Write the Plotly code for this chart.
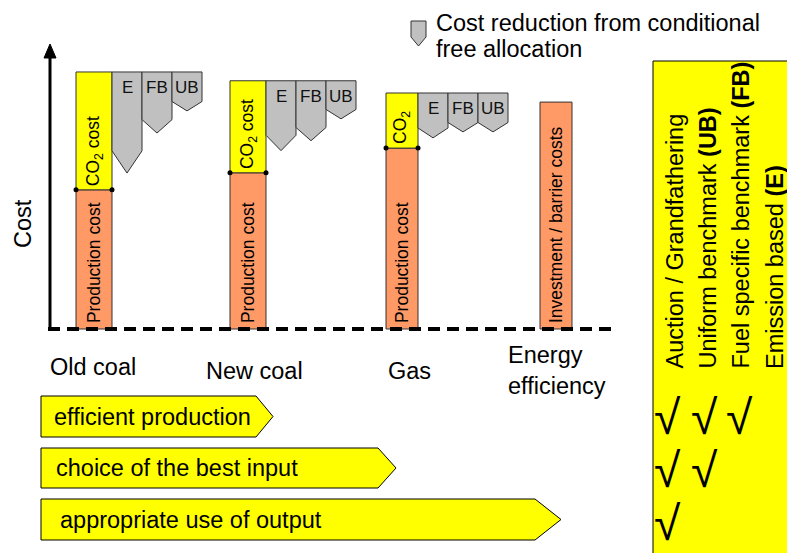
import plotly.graph_objects as go

# ---------------- data ----------------
categories = ["Old coal", "New coal", "Gas", "Energy<br>efficiency"]
production_cost = [49.0, 55.0, 63.7, None]
co2_cost = [41.5, 32.4, 19.4, None]
barrier_cost = [None, None, None, 79.9]
co2_labels = ["CO<sub>2</sub> cost", "CO<sub>2</sub> cost", "CO<sub>2</sub>", None]
bar_labels = ["Production cost", "Production cost", "Production cost", "Investment / barrier costs"]

reduction_names = ["E", "FB", "UB"]
reduction_E = [35.6, 24.6, 15.8, None]
reduction_FB = [21.5, 21.1, 13.7, None]
reduction_UB = [13.7, 13.4, 13.7, None]

incentives = ["efficient production", "choice of the best input", "appropriate use of output"]
allocation_methods = ["Auction / Grandfathering", "Uniform benchmark <b>(UB)</b>",
                      "Fuel specific benchmark <b>(FB)</b>", "Emission based <b>(E)</b>"]
provides = [[1, 1, 1, 0],
            [1, 1, 0, 0],
            [1, 0, 0, 0]]

legend_text = ["Cost reduction from conditional", "free allocation"]

# ---------------- layout helpers ----------------
W, H = 795, 553
OFF = 8           # page body margin of the html page
BASE = 329.0      # screen pixel row of cost = 0
K = 2.84          # pixels per cost unit
FONT = "Liberation Sans, Arial, sans-serif"
SALMON = "#FF9966"
YELLOW = "#FFFF00"
GREY = "#C0C0C0"
EDGE = "#333333"


def px(x):
    return (x - OFF) / W


def py(y):
    return 1 - (y - OFF) / H


def cy(y_pixel):
    return (BASE - y_pixel) / K


centers = [94 + 154 * i for i in range(len(categories))]
widths = [36, 36, 32, 32]
label_shift = [-1, 6, 7, 1]
label_row = [367, 371, 371, 370]

fig = go.Figure()

# bars
fig.add_trace(go.Bar(x=centers, y=production_cost, width=widths, base=0,
                     marker=dict(color=SALMON, line=dict(color=EDGE, width=1)),
                     hoverinfo="skip"))
fig.add_trace(go.Bar(x=centers, y=barrier_cost, width=widths, base=0,
                     marker=dict(color=SALMON, line=dict(color=EDGE, width=1)),
                     hoverinfo="skip"))
fig.add_trace(go.Bar(x=centers, y=co2_cost, width=widths, base=production_cost,
                     marker=dict(color=YELLOW, line=dict(color=EDGE, width=1)),
                     hoverinfo="skip"))

# junction dots
dx, dy = [], []
for c, w, p, co in zip(centers, widths, production_cost, co2_cost):
    if p is not None and co is not None:
        dx += [c - w / 2, c + w / 2]
        dy += [p, p]
fig.add_trace(go.Scatter(x=dx, y=dy, mode="markers",
                         marker=dict(color="black", size=5, symbol="circle"),
                         hoverinfo="skip"))

shapes = []
annotations = []

# reduction pentagons
reductions = [reduction_E, reduction_FB, reduction_UB]
for i, (c, w, p, co) in enumerate(zip(centers, widths, production_cost, co2_cost)):
    if p is None or co is None:
        continue
    top = p + co
    x0 = c + w / 2
    for j, red in enumerate(reductions):
        d = red[i]
        if d is None:
            continue
        tip = max(3.3, 0.22 * d)
        a = x0 + 30 * j
        b = a + 30
        m = (a + b) / 2
        path = (f"M {a},{top} L {b},{top} L {b},{top - d + tip} "
                f"L {m},{top - d} L {a},{top - d + tip} Z")
        shapes.append(dict(type="path", xref="x", yref="y", path=path,
                           fillcolor=GREY, line=dict(color=EDGE, width=1), layer="above"))
        annotations.append(dict(x=m, y=top - 1.4, xref="x", yref="y",
                                text=reduction_names[j], showarrow=False,
                                xanchor="center", yanchor="top",
                                font=dict(family=FONT, size=17, color="#111")))

# bar labels
for c, p, co, lab, clab, bc in zip(centers, production_cost, co2_cost, bar_labels,
                                     co2_labels, barrier_cost):
    annotations.append(dict(x=c, y=1.2, xref="x", yref="y", text=lab, textangle=-90,
                            showarrow=False, xanchor="center", yanchor="bottom",
                            font=dict(family=FONT, size=17.5, color="black")))
    if clab is not None:
        annotations.append(dict(x=c, y=p + 0.6, xref="x", yref="y", text=clab,
                                textangle=-90, showarrow=False,
                                xanchor="center", yanchor="bottom",
                                font=dict(family=FONT, size=17.5, color="black")))

# category labels
for c, s, r, cat in zip(centers, label_shift, label_row, categories):
    annotations.append(dict(x=c + s, y=cy(r), xref="x", yref="y", text=cat,
                            showarrow=False, xanchor="center", yanchor="middle",
                            align="left",
                            font=dict(family=FONT, size=23.5, color="black")))

# axis arrow and dashed baseline
shapes.append(dict(type="line", xref="paper", yref="paper", x0=px(50), x1=px(50),
                   y0=py(330), y1=py(52), line=dict(color="black", width=3)))
shapes.append(dict(type="path", xref="paper", yref="paper",
                   path=f"M {px(44)},{py(58)} L {px(56)},{py(58)} L {px(50)},{py(44)} Z",
                   fillcolor="black", line=dict(color="black", width=1)))
shapes.append(dict(type="line", xref="paper", yref="y", x0=px(48), x1=px(616),
                   y0=0, y1=0, line=dict(color="black", width=4, dash="12px,7px")))
annotations.append(dict(x=px(23), y=py(224), xref="paper", yref="paper", text="Cost",
                        textangle=-90, showarrow=False, xanchor="center", yanchor="middle",
                        font=dict(family=FONT, size=23.5, color="black")))

# legend
shapes.append(dict(type="path", xref="paper", yref="paper",
                   path=(f"M {px(411)},{py(21)} L {px(426)},{py(21)} L {px(426)},{py(37)} "
                         f"L {px(418.5)},{py(46)} L {px(411)},{py(37)} Z"),
                   fillcolor=GREY, line=dict(color=EDGE, width=1)))
for k, t in enumerate(legend_text):
    annotations.append(dict(x=px(434), y=py(23 + 26 * k), xref="paper", yref="paper",
                            text=t, showarrow=False, xanchor="left", yanchor="middle",
                            font=dict(family=FONT, size=23.5, color="black")))

# incentive arrows
arrow_geo = [(396, 437, 256, 273, 52), (448, 488, 378, 396, 54), (499, 540, 535, 561, 58)]
for (t, b, s, tipx, tx), lab in zip(arrow_geo, incentives):
    m = (t + b) / 2
    path = (f"M {px(41)},{py(t)} L {px(s)},{py(t)} L {px(tipx)},{py(m)} "
            f"L {px(s)},{py(b)} L {px(41)},{py(b)} Z")
    shapes.append(dict(type="path", xref="paper", yref="paper", path=path,
                       fillcolor=YELLOW, line=dict(color="black", width=1)))
    annotations.append(dict(x=px(tx), y=py(m), xref="paper", yref="paper", text=lab,
                            showarrow=False, xanchor="left", yanchor="middle",
                            font=dict(family=FONT, size=23.5, color="black")))

# allocation panel
shapes.append(dict(type="rect", xref="paper", yref="paper", x0=px(653), x1=1.05,
                   y0=-0.05, y1=py(61), fillcolor=YELLOW, line=dict(color="black", width=1),
                   layer="below"))
col_x = [674, 707, 740, 775]
for x, name in zip(col_x, allocation_methods):
    annotations.append(dict(x=px(x), y=py(371), xref="paper", yref="paper", text=name,
                            textangle=-90, showarrow=False,
                            xanchor="center", yanchor="bottom",
                            font=dict(family=FONT, size=23.5, color="black")))
check_x = [667, 704, 739, 774]
row_y = [417, 470, 523]
for r, row in enumerate(provides):
    for cidx, v in enumerate(row):
        if v:
            annotations.append(dict(x=px(check_x[cidx]), y=py(row_y[r]), xref="paper",
                                    yref="paper", text="√", showarrow=False,
                                    xanchor="center", yanchor="middle",
                                    font=dict(family=FONT, size=48, color="black")))

fig.update_layout(
    width=W, height=H, margin=dict(l=0, r=0, t=0, b=0),
    paper_bgcolor="white", plot_bgcolor="white", showlegend=False,
    barmode="overlay",
    xaxis=dict(range=[OFF, W + OFF], visible=False, fixedrange=True),
    yaxis=dict(range=[(BASE - H - OFF) / K, (BASE - OFF) / K], visible=False,
               fixedrange=True),
    shapes=shapes, annotations=annotations,
)

fig.write_html("out.html")
